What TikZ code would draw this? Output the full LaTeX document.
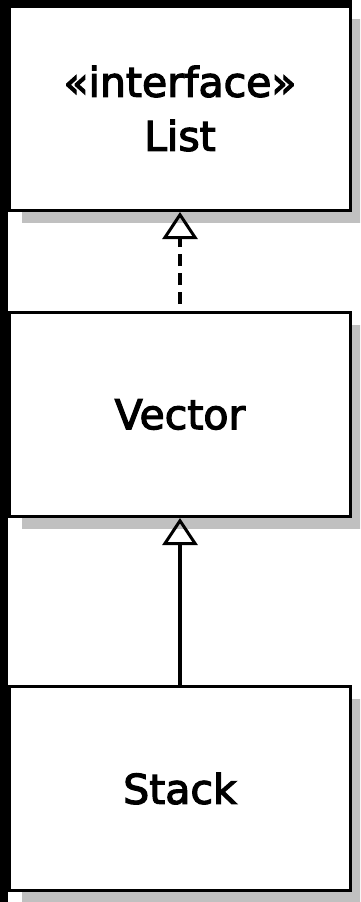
\documentclass[tikz,border=0pt]{standalone}
\usepackage{fontspec}
\setmainfont{DejaVu Sans}[FakeBold=3]
\usetikzlibrary{arrows.meta}
\definecolor{shadowgray}{RGB}{192,192,192}
\tikzset{
  classbox/.style={draw=black, line width=3pt, fill=white,
    minimum width=341pt, minimum height=204pt, inner sep=0pt,
    align=center, font=\fontsize{41pt}{54pt}\selectfont},
  hollowtip/.style={-{Triangle[open, line width=3pt, length=27pt, width=35pt]}},
  realize/.style={hollowtip, line width=4pt, dash pattern=on 12pt off 7pt, dash phase=12pt},
  inherit/.style={hollowtip, line width=4pt},
  dropshadow/.style={fill=shadowgray, draw=none},
}
\begin{document}
\begin{tikzpicture}
\useasboundingbox (0pt,0pt) rectangle (360pt,-902pt);
\clip (0pt,0pt) rectangle (360pt,-902pt);

% frame strips along the top and left edges
\fill[black] (0pt,0pt) rectangle (352pt,-8pt);
\fill[black] (0pt,0pt) rectangle (8pt,-902pt);

% drop shadows behind the class boxes
\fill[dropshadow] (22pt,-19pt) rectangle (370pt,-223pt);
\fill[dropshadow] (22pt,-325pt) rectangle (370pt,-529pt);
\fill[dropshadow] (22pt,-699pt) rectangle (370pt,-906pt);

% classes
\node[classbox] (list)   at (180pt,-108.5pt) {«interface»\\List};
\node[classbox] (vector) at (180pt,-414.5pt) {Vector};
\node[classbox] (stack)  at (180pt,-788.5pt) {Stack};

% relations
\draw[realize] (vector.north) -- (list.south);
\draw[inherit] (stack.north) -- (vector.south);
\end{tikzpicture}
\end{document}
